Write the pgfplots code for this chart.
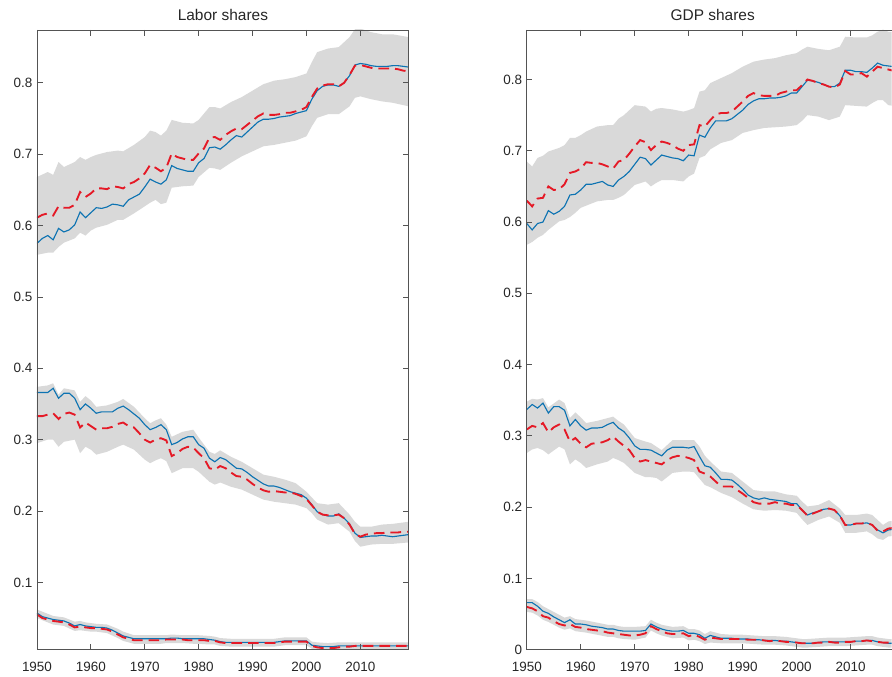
\documentclass[border=0pt]{standalone}
\usepackage{fontspec}
\setmainfont{Liberation Sans}
\usepackage{pgfplots}
\pgfplotsset{compat=1.18}
\usepackage{pgfplotstable}
\usepgfplotslibrary{fillbetween}
\definecolor{mblue}{rgb}{0.05,0.45,0.70}
\definecolor{mred}{rgb}{0.90,0.10,0.15}
\definecolor{bandgray}{rgb}{0.85,0.85,0.85}
\definecolor{axgray}{rgb}{0.33,0.33,0.33}
\definecolor{txtgray}{rgb}{0.15,0.15,0.15}

\pgfplotstableread{
year bT rT bM rM bB rB
1950 0.575 0.611 0.366 0.333 0.057 0.055
1951 0.582 0.615 0.366 0.333 0.052 0.050
1952 0.586 0.617 0.366 0.335 0.050 0.048
1953 0.580 0.614 0.372 0.337 0.048 0.046
1954 0.596 0.627 0.358 0.329 0.047 0.045
1955 0.591 0.625 0.365 0.336 0.046 0.044
1956 0.594 0.625 0.365 0.338 0.043 0.041
1957 0.601 0.629 0.358 0.335 0.039 0.037
1958 0.619 0.647 0.342 0.317 0.041 0.038
1959 0.611 0.640 0.350 0.324 0.039 0.037
1960 0.618 0.645 0.344 0.319 0.038 0.036
1961 0.625 0.652 0.337 0.314 0.037 0.036
1962 0.624 0.652 0.339 0.316 0.037 0.035
1963 0.626 0.651 0.339 0.316 0.036 0.034
1964 0.630 0.655 0.339 0.318 0.033 0.031
1965 0.629 0.654 0.344 0.322 0.029 0.027
1966 0.627 0.652 0.347 0.324 0.025 0.023
1967 0.636 0.658 0.342 0.319 0.023 0.021
1968 0.640 0.661 0.336 0.317 0.021 0.019
1969 0.644 0.666 0.330 0.309 0.021 0.019
1970 0.654 0.673 0.321 0.300 0.021 0.019
1971 0.665 0.685 0.314 0.296 0.021 0.019
1972 0.661 0.681 0.317 0.300 0.021 0.019
1973 0.658 0.676 0.321 0.302 0.021 0.019
1974 0.664 0.681 0.314 0.299 0.021 0.020
1975 0.684 0.701 0.293 0.277 0.022 0.020
1976 0.680 0.696 0.296 0.281 0.022 0.020
1977 0.678 0.694 0.301 0.287 0.021 0.020
1978 0.676 0.692 0.304 0.290 0.021 0.019
1979 0.676 0.692 0.304 0.289 0.021 0.019
1980 0.688 0.701 0.293 0.281 0.021 0.019
1981 0.694 0.708 0.288 0.274 0.021 0.019
1982 0.709 0.723 0.274 0.260 0.020 0.018
1983 0.710 0.724 0.269 0.258 0.019 0.018
1984 0.707 0.720 0.275 0.263 0.017 0.016
1985 0.713 0.727 0.272 0.260 0.016 0.015
1986 0.720 0.732 0.266 0.254 0.016 0.015
1987 0.726 0.736 0.260 0.249 0.016 0.015
1988 0.724 0.735 0.259 0.248 0.016 0.015
1989 0.731 0.741 0.254 0.244 0.016 0.015
1990 0.738 0.747 0.248 0.238 0.016 0.015
1991 0.745 0.753 0.243 0.233 0.016 0.015
1992 0.749 0.757 0.238 0.229 0.016 0.015
1993 0.749 0.755 0.235 0.227 0.016 0.015
1994 0.750 0.755 0.235 0.228 0.016 0.015
1995 0.752 0.756 0.233 0.227 0.017 0.016
1996 0.753 0.758 0.230 0.226 0.018 0.017
1997 0.754 0.758 0.227 0.226 0.018 0.017
1998 0.757 0.760 0.225 0.224 0.018 0.017
1999 0.759 0.762 0.223 0.221 0.018 0.017
2000 0.761 0.766 0.218 0.217 0.018 0.017
2001 0.777 0.780 0.209 0.208 0.012 0.011
2002 0.789 0.792 0.199 0.199 0.011 0.009
2003 0.795 0.796 0.195 0.195 0.010 0.008
2004 0.797 0.798 0.193 0.194 0.010 0.008
2005 0.797 0.798 0.193 0.194 0.010 0.008
2006 0.795 0.795 0.196 0.195 0.011 0.009
2007 0.800 0.800 0.190 0.190 0.011 0.010
2008 0.810 0.811 0.182 0.181 0.011 0.010
2009 0.825 0.824 0.169 0.168 0.011 0.011
2010 0.827 0.825 0.163 0.164 0.011 0.011
2011 0.826 0.823 0.164 0.167 0.011 0.011
2012 0.824 0.821 0.165 0.168 0.011 0.011
2013 0.823 0.820 0.165 0.169 0.011 0.011
2014 0.823 0.820 0.166 0.169 0.011 0.011
2015 0.823 0.820 0.165 0.170 0.011 0.011
2016 0.824 0.820 0.164 0.170 0.011 0.011
2017 0.824 0.819 0.165 0.170 0.011 0.011
2018 0.823 0.817 0.166 0.171 0.011 0.011
2019 0.822 0.816 0.167 0.171 0.011 0.011
}\labordata

\pgfplotstableread{
year tU tL mU mL bU bL
1950 0.668 0.559 0.374 0.295 0.062 0.050
1952 0.675 0.562 0.376 0.300 0.056 0.044
1953 0.671 0.562 0.379 0.300 0.053 0.041
1954 0.689 0.570 0.363 0.290 0.052 0.040
1955 0.682 0.576 0.372 0.297 0.051 0.039
1957 0.689 0.582 0.369 0.300 0.045 0.032
1958 0.696 0.590 0.353 0.281 0.046 0.033
1959 0.692 0.586 0.361 0.290 0.044 0.032
1960 0.696 0.593 0.355 0.286 0.043 0.031
1961 0.699 0.597 0.346 0.279 0.042 0.031
1963 0.703 0.601 0.348 0.283 0.041 0.029
1965 0.705 0.608 0.353 0.290 0.035 0.022
1966 0.704 0.608 0.357 0.293 0.031 0.018
1968 0.713 0.617 0.346 0.286 0.026 0.014
1970 0.724 0.627 0.330 0.272 0.026 0.014
1971 0.733 0.632 0.323 0.267 0.026 0.014
1972 0.731 0.636 0.327 0.271 0.026 0.014
1973 0.726 0.630 0.330 0.274 0.026 0.014
1974 0.733 0.632 0.321 0.270 0.026 0.015
1975 0.748 0.653 0.304 0.253 0.027 0.015
1977 0.744 0.655 0.311 0.260 0.026 0.015
1979 0.743 0.656 0.314 0.260 0.026 0.014
1980 0.748 0.668 0.303 0.255 0.026 0.014
1982 0.766 0.681 0.283 0.241 0.025 0.013
1983 0.766 0.680 0.280 0.237 0.024 0.013
1984 0.764 0.678 0.285 0.240 0.022 0.011
1986 0.773 0.688 0.276 0.234 0.021 0.010
1988 0.780 0.697 0.269 0.230 0.021 0.010
1990 0.789 0.704 0.260 0.223 0.021 0.010
1992 0.798 0.711 0.251 0.216 0.021 0.010
1994 0.803 0.713 0.248 0.213 0.021 0.010
1996 0.805 0.716 0.244 0.211 0.023 0.012
1998 0.808 0.719 0.239 0.209 0.023 0.012
2000 0.813 0.725 0.227 0.204 0.023 0.012
2001 0.829 0.739 0.219 0.197 0.017 0.007
2002 0.843 0.751 0.211 0.188 0.016 0.006
2004 0.848 0.756 0.209 0.181 0.015 0.0057
2006 0.850 0.756 0.211 0.183 0.016 0.0057
2008 0.864 0.767 0.195 0.171 0.016 0.006
2009 0.875 0.779 0.185 0.158 0.016 0.006
2010 0.876 0.781 0.178 0.150 0.016 0.006
2012 0.871 0.777 0.178 0.153 0.016 0.006
2014 0.868 0.774 0.181 0.154 0.016 0.006
2016 0.868 0.772 0.182 0.154 0.016 0.006
2019 0.864 0.767 0.185 0.156 0.016 0.006
}\laborband

\pgfplotstableread{
year bT rT bM rM bB rB
1950 0.598 0.630 0.337 0.309 0.066 0.060
1951 0.589 0.622 0.344 0.314 0.066 0.058
1952 0.598 0.633 0.339 0.312 0.061 0.054
1953 0.600 0.634 0.346 0.318 0.054 0.047
1954 0.616 0.650 0.332 0.305 0.051 0.045
1955 0.611 0.645 0.341 0.312 0.046 0.040
1956 0.615 0.646 0.341 0.316 0.042 0.036
1957 0.622 0.653 0.336 0.309 0.038 0.034
1958 0.638 0.669 0.314 0.292 0.042 0.036
1959 0.639 0.671 0.323 0.297 0.036 0.032
1960 0.645 0.675 0.314 0.289 0.036 0.031
1961 0.653 0.684 0.308 0.284 0.035 0.029
1962 0.653 0.683 0.311 0.289 0.033 0.028
1963 0.655 0.683 0.311 0.290 0.032 0.027
1964 0.657 0.681 0.312 0.291 0.031 0.026
1965 0.652 0.678 0.316 0.294 0.029 0.024
1966 0.650 0.675 0.319 0.299 0.029 0.023
1967 0.659 0.685 0.311 0.292 0.027 0.022
1968 0.664 0.687 0.306 0.286 0.026 0.021
1969 0.671 0.696 0.297 0.280 0.026 0.020
1970 0.681 0.706 0.286 0.269 0.026 0.020
1971 0.691 0.715 0.281 0.264 0.026 0.021
1972 0.689 0.712 0.281 0.266 0.027 0.023
1973 0.680 0.701 0.280 0.264 0.036 0.033
1974 0.687 0.708 0.276 0.262 0.032 0.029
1975 0.694 0.713 0.272 0.260 0.029 0.026
1976 0.692 0.711 0.280 0.266 0.027 0.023
1977 0.690 0.708 0.284 0.270 0.026 0.022
1978 0.689 0.703 0.284 0.272 0.026 0.022
1979 0.686 0.700 0.284 0.271 0.027 0.023
1980 0.694 0.708 0.283 0.269 0.023 0.019
1981 0.693 0.709 0.285 0.266 0.023 0.021
1982 0.722 0.736 0.271 0.250 0.021 0.018
1983 0.719 0.734 0.258 0.247 0.016 0.014
1984 0.732 0.743 0.256 0.243 0.020 0.017
1985 0.742 0.751 0.248 0.236 0.018 0.016
1986 0.742 0.753 0.239 0.229 0.016 0.015
1987 0.742 0.753 0.239 0.229 0.016 0.015
1988 0.745 0.755 0.238 0.229 0.016 0.015
1989 0.751 0.762 0.232 0.224 0.015 0.015
1990 0.757 0.769 0.225 0.219 0.015 0.015
1991 0.765 0.777 0.217 0.213 0.015 0.014
1992 0.770 0.781 0.213 0.207 0.014 0.014
1993 0.773 0.778 0.211 0.205 0.014 0.014
1994 0.773 0.777 0.213 0.205 0.013 0.013
1995 0.774 0.777 0.211 0.205 0.013 0.012
1996 0.774 0.777 0.210 0.207 0.013 0.013
1997 0.775 0.781 0.209 0.205 0.012 0.012
1998 0.777 0.783 0.208 0.205 0.012 0.011
1999 0.781 0.785 0.205 0.203 0.011 0.011
2000 0.781 0.785 0.205 0.203 0.010 0.010
2001 0.790 0.792 0.196 0.196 0.009 0.009
2002 0.799 0.800 0.189 0.188 0.009 0.009
2003 0.798 0.798 0.192 0.191 0.009 0.009
2004 0.796 0.795 0.194 0.194 0.010 0.010
2005 0.793 0.793 0.197 0.197 0.011 0.010
2006 0.790 0.790 0.198 0.198 0.011 0.011
2007 0.790 0.789 0.196 0.196 0.011 0.010
2008 0.795 0.793 0.188 0.188 0.011 0.010
2009 0.813 0.812 0.175 0.175 0.011 0.011
2010 0.813 0.807 0.175 0.175 0.011 0.011
2011 0.811 0.807 0.177 0.177 0.012 0.012
2012 0.811 0.809 0.177 0.177 0.012 0.012
2013 0.810 0.804 0.178 0.178 0.013 0.013
2014 0.816 0.811 0.175 0.175 0.013 0.012
2015 0.823 0.818 0.168 0.167 0.011 0.011
2016 0.820 0.816 0.164 0.166 0.010 0.010
2017 0.819 0.814 0.168 0.170 0.009 0.010
2018 0.818 0.812 0.169 0.171 0.009 0.010
2019 0.817 0.811 0.170 0.172 0.009 0.010
}\gdpdata

\pgfplotstableread{
year tU tL mU mL bU bL
1950 0.685 0.568 0.348 0.276 0.071 0.053
1951 0.678 0.572 0.352 0.281 0.071 0.052
1952 0.690 0.578 0.351 0.283 0.067 0.048
1953 0.693 0.582 0.353 0.280 0.061 0.042
1954 0.699 0.589 0.340 0.274 0.057 0.039
1956 0.704 0.601 0.351 0.285 0.049 0.031
1957 0.708 0.603 0.346 0.281 0.045 0.028
1958 0.718 0.607 0.325 0.260 0.047 0.030
1959 0.718 0.613 0.333 0.267 0.043 0.026
1960 0.722 0.620 0.326 0.262 0.042 0.025
1961 0.727 0.623 0.318 0.255 0.041 0.024
1963 0.734 0.629 0.321 0.260 0.038 0.021
1965 0.736 0.631 0.325 0.264 0.035 0.018
1966 0.736 0.631 0.327 0.269 0.035 0.018
1967 0.745 0.634 0.321 0.266 0.033 0.016
1968 0.750 0.638 0.316 0.262 0.032 0.015
1970 0.764 0.652 0.297 0.248 0.032 0.014
1972 0.762 0.657 0.292 0.242 0.033 0.017
1973 0.755 0.650 0.290 0.242 0.042 0.027
1974 0.759 0.655 0.285 0.241 0.038 0.023
1975 0.760 0.659 0.280 0.236 0.035 0.020
1977 0.758 0.659 0.294 0.248 0.032 0.016
1979 0.755 0.657 0.294 0.250 0.033 0.017
1980 0.757 0.664 0.294 0.250 0.029 0.013
1981 0.760 0.668 0.294 0.249 0.029 0.014
1982 0.783 0.690 0.285 0.240 0.027 0.012
1983 0.785 0.693 0.272 0.231 0.022 0.008
1984 0.795 0.702 0.264 0.228 0.026 0.010
1986 0.802 0.711 0.250 0.220 0.022 0.009
1988 0.809 0.715 0.248 0.214 0.021 0.009
1990 0.818 0.725 0.236 0.205 0.021 0.009
1992 0.825 0.729 0.224 0.197 0.020 0.008
1994 0.828 0.732 0.222 0.195 0.019 0.007
1996 0.830 0.733 0.222 0.196 0.019 0.007
1998 0.834 0.734 0.218 0.195 0.018 0.006
2000 0.837 0.736 0.216 0.192 0.016 0.004
2001 0.842 0.742 0.208 0.183 0.015 0.003
2002 0.846 0.750 0.201 0.175 0.015 0.003
2004 0.843 0.748 0.203 0.182 0.016 0.004
2006 0.841 0.743 0.210 0.187 0.017 0.005
2008 0.846 0.748 0.198 0.178 0.017 0.005
2009 0.860 0.764 0.189 0.164 0.017 0.005
2011 0.859 0.763 0.189 0.164 0.018 0.006
2013 0.859 0.762 0.191 0.166 0.019 0.007
2014 0.862 0.767 0.189 0.162 0.019 0.007
2015 0.867 0.771 0.182 0.156 0.017 0.005
2016 0.870 0.771 0.175 0.154 0.016 0.004
2017 0.867 0.764 0.180 0.159 0.015 0.003
2019 0.865 0.762 0.182 0.160 0.015 0.003
}\gdpband

\pgfplotsset{
  panel/.style={
    scale only axis, height=465pt,
    anchor=south west,
    xmin=1950,
    xtick={1950,1960,1970,1980,1990,2000,2010},
    tick align=inside,
    major tick length=4.2pt,
    axis on top,
    axis line style={-, axgray, line width=0.6pt},
    every tick/.style={axgray, line width=0.6pt},
    /pgf/number format/assume math mode=true,
    tick label style={font=\fontsize{10.1}{12}\selectfont, text=txtgray},
    x tick label style={/pgf/number format/1000 sep={}, yshift=-6pt},
    y tick label style={/pgf/number format/fixed},
    title style={font=\fontsize{11.6}{13}\selectfont, text=txtgray, anchor=base, yshift=1pt},
  },
  blueline/.style={mblue, line width=0.85pt},
  redline/.style={mred, line width=1.4pt, dash pattern=on 8pt off 4.5pt},
}

\begin{document}
\begin{tikzpicture}
\path (0pt,0pt) rectangle (669pt,507.75pt);

\begin{axis}[panel, width=279pt, xmax=2019, at={(27.75pt,20.25pt)},
  ymin=0.0057, ymax=0.874,
  ytick={0.1,0.2,0.3,0.4,0.5,0.6,0.7,0.8}, title={Labor shares},
  title style={at={(0.5,1)}}]
  \addplot[name path=tU, draw=none] table[x=year,y=tU]{\laborband};
  \addplot[name path=tL, draw=none] table[x=year,y=tL]{\laborband};
  \addplot[fill=bandgray, draw=none] fill between[of=tU and tL];
  \addplot[name path=mU, draw=none] table[x=year,y=mU]{\laborband};
  \addplot[name path=mL, draw=none] table[x=year,y=mL]{\laborband};
  \addplot[fill=bandgray, draw=none] fill between[of=mU and mL];
  \addplot[name path=bU, draw=none] table[x=year,y=bU]{\laborband};
  \addplot[name path=bL, draw=none] table[x=year,y=bL]{\laborband};
  \addplot[fill=bandgray, draw=none] fill between[of=bU and bL];
  \addplot[blueline] table[x=year,y=bT]{\labordata};
  \addplot[blueline] table[x=year,y=bM]{\labordata};
  \addplot[blueline] table[x=year,y=bB]{\labordata};
  \addplot[redline] table[x=year,y=rT]{\labordata};
  \addplot[redline] table[x=year,y=rM]{\labordata};
  \addplot[redline] table[x=year,y=rB]{\labordata};
\end{axis}

\begin{axis}[panel, width=273.75pt, xmax=2017.593, at={(395.25pt,20.25pt)},
  axis y line*=left, axis x line*=box,
  ymin=0, ymax=0.8695,
  ytick={0,0.1,0.2,0.3,0.4,0.5,0.6,0.7,0.8}, title={GDP shares},
  title style={at={(0.5096,1)}}]
  \addplot[name path=tU, draw=none] table[x=year,y=tU]{\gdpband};
  \addplot[name path=tL, draw=none] table[x=year,y=tL]{\gdpband};
  \addplot[fill=bandgray, draw=none] fill between[of=tU and tL];
  \addplot[name path=mU, draw=none] table[x=year,y=mU]{\gdpband};
  \addplot[name path=mL, draw=none] table[x=year,y=mL]{\gdpband};
  \addplot[fill=bandgray, draw=none] fill between[of=mU and mL];
  \addplot[name path=bU, draw=none] table[x=year,y=bU]{\gdpband};
  \addplot[name path=bL, draw=none] table[x=year,y=bL]{\gdpband};
  \addplot[fill=bandgray, draw=none] fill between[of=bU and bL];
  \addplot[blueline] table[x=year,y=bT]{\gdpdata};
  \addplot[blueline] table[x=year,y=bM]{\gdpdata};
  \addplot[blueline] table[x=year,y=bB]{\gdpdata};
  \addplot[redline] table[x=year,y=rT]{\gdpdata};
  \addplot[redline] table[x=year,y=rM]{\gdpdata};
  \addplot[redline] table[x=year,y=rB]{\gdpdata};
\end{axis}
\end{tikzpicture}
\end{document}
